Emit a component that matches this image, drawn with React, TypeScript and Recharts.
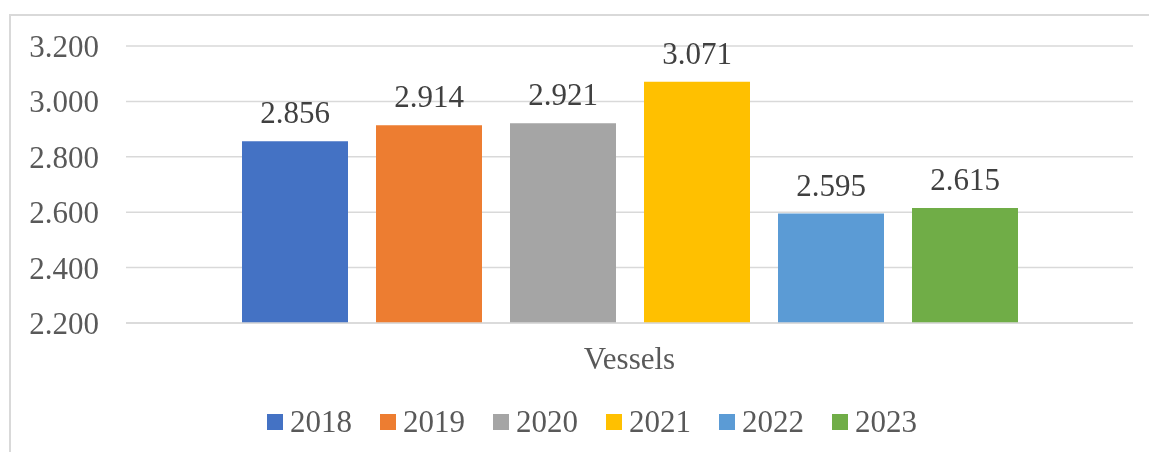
import { BarChart, Bar, XAxis, YAxis, CartesianGrid, LabelList } from "recharts";

const categories = ["Vessels"];
const years = ["2018", "2019", "2020", "2021", "2022", "2023"];
const values = [2856, 2914, 2921, 3071, 2595, 2615];
const colors = ["#4472C4", "#ED7D31", "#A5A5A5", "#FFC000", "#5B9BD5", "#70AD47"];
const yTicks = [2200, 2400, 2600, 2800, 3000, 3200];

const FONT = '"Liberation Serif", "Times New Roman", serif';

// one row per category, one key per year
const data = categories.map((name) => {
  const row: Record<string, string | number> = { name };
  years.forEach((y, i) => (row[y] = values[i]));
  return row;
});

// 2.856 style (dot as thousands separator)
const fmt = (v: number) => (v / 1000).toFixed(3);

export default function App() {
  return (
    <div style={{ position: "relative", width: 1149, height: 452, fontFamily: FONT }}>
      <div
        style={{
          position: "fixed",
          left: 9,
          top: 14,
          width: 1150,
          height: 450,
          borderTop: "2px solid #d9d9d9",
          borderLeft: "2px solid #d9d9d9",
          boxSizing: "border-box",
        }}
      />
      <div style={{ position: "fixed", left: 0, top: 0 }}>
        <BarChart
          width={1149}
          height={452}
          data={data}
          margin={{ top: 46, right: 16, bottom: 69, left: 0 }}
          barSize={106}
          barGap={28}
        >
          <CartesianGrid vertical={false} stroke="#d9d9d9" strokeWidth={1.5} />
          <XAxis
            dataKey="name"
            height={60}
            axisLine={{ stroke: "#d9d9d9", strokeWidth: 1.5 }}
            tickLine={false}
            tickSize={0}
            tickMargin={24}
            tick={{ fontSize: 31, fill: "#595959", fontFamily: FONT }}
          />
          <YAxis
            width={126}
            domain={[2200, 3200]}
            ticks={yTicks}
            axisLine={false}
            tickLine={false}
            tickSize={0}
            tickMargin={27}
            tickFormatter={fmt}
            tick={{ fontSize: 31, fill: "#595959", fontFamily: FONT }}
          />
          {years.map((y, i) => (
            <Bar key={y} dataKey={y} fill={colors[i]} isAnimationActive={false}>
              <LabelList
                dataKey={y}
                position="top"
                offset={18}
                formatter={(v: number) => fmt(v)}
                style={{ fontSize: 31, fill: "#404040", fontFamily: FONT }}
              />
            </Bar>
          ))}
        </BarChart>
      </div>
      <div
        style={{
          position: "fixed",
          left: 267,
          top: 400,
          display: "flex",
          alignItems: "center",
          height: 44,
          fontSize: 31,
          color: "#595959",
          fontFamily: FONT,
        }}
      >
        {years.map((y, i) => (
          <div key={y} style={{ display: "flex", alignItems: "center", width: 113 }}>
            <span style={{ width: 16, height: 16, background: colors[i], marginRight: 7, display: "inline-block" }} />
            <span style={{ lineHeight: "44px" }}>{y}</span>
          </div>
        ))}
      </div>
    </div>
  );
}
